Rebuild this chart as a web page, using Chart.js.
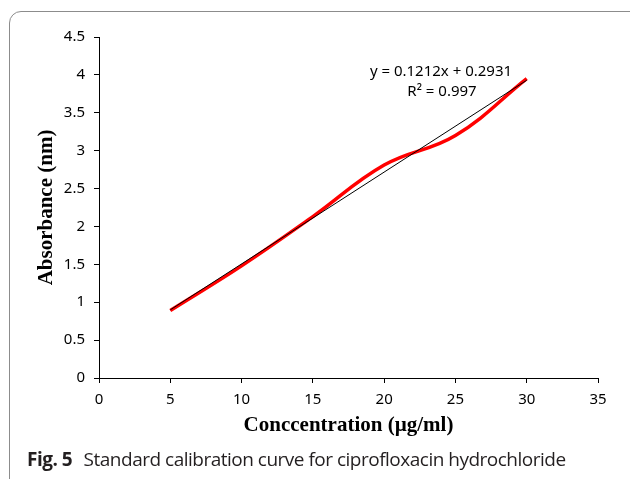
<!DOCTYPE html>
<html>
<head>
<meta charset="utf-8">
<script src="https://cdn.jsdelivr.net/npm/chart.js@4.4.1/dist/chart.umd.min.js"></script>
<style>
  html, body { margin: 0; padding: 0; background: #fff; overflow: hidden; }
  #wrap { position: relative; width: 630px; height: 479px; }
  #frame { position: absolute; left: 9px; top: 11px; width: 650px; height: 500px;
           border: 1px solid #8c8c8c; border-radius: 12px; box-sizing: border-box; }
  #chart { position: absolute; left: 0; top: 0; }
  #caption { position: absolute; left: 27px; top: 446px; font-family: "Open Sans", "Noto Sans", sans-serif;
             font-size: 19px; color: #231f20; white-space: nowrap; letter-spacing: -0.5px; }
  #caption b { margin-right: 7px; }
</style>
</head>
<body>
<div id="wrap">
  <div id="frame"></div>
  <canvas id="chart" width="630" height="479"></canvas>
  <div id="caption"><b>Fig. 5</b> Standard calibration curve for ciprofloxacin hydrochloride</div>
</div>
<script>
// 濃度と吸光度
var concentration = [5, 10, 15, 20, 25, 30];
var absorbance = [0.89, 1.48, 2.13, 2.81, 3.20, 3.95];

// 近似直線 (y = 0.1212x + 0.2931)
var trendX = [5, 30];
var trendY = [0.8991, 3.9291];

var equationText = "y = 0.1212x + 0.2931";
var r2Text = "R\u00b2 = 0.997";

var xTitle = "Conccentration (\u00b5g/ml)";
var yTitle = "Absorbance (nm)";

var measured = concentration.map(function(x, i) { return { x: x, y: absorbance[i] }; });
var trend = trendX.map(function(x, i) { return { x: x, y: trendY[i] }; });

// 式と決定係数
var labelsPlugin = {
  id: 'labelsPlugin',
  afterDraw: function(chart) {
    var ctx = chart.ctx;
    ctx.save();
    ctx.fillStyle = '#000';
    ctx.textAlign = 'center';
    ctx.textBaseline = 'middle';
    ctx.font = '15px "Noto Sans", sans-serif';
    ctx.fillText(equationText, 441, 72);
    ctx.fillText(r2Text, 442, 92);
    ctx.restore();
  }
};

var tickFont = { family: '"Noto Sans", sans-serif', size: 15 };
var titleFont = { family: '"Liberation Serif", serif', size: 21, weight: 'bold' };

var ctx = document.getElementById("chart").getContext("2d");

var myChart = new Chart(ctx, {
  type: 'scatter',
  data: {
    datasets: [{
      label: 'trend',
      data: trend,
      showLine: true,
      borderColor: '#000',
      borderWidth: 1,
      pointRadius: 0,
      order: 0
    }, {
      label: 'absorbance',
      data: measured,
      showLine: true,
      borderColor: '#ff0000',
      borderWidth: 3.5,
      tension: 0.4,
      pointRadius: 0,
      order: 1
    }]
  },
  options: {
    responsive: false,
    animation: false,
    layout: {
      padding: { left: 0, right: 32, top: 37, bottom: 37 }
    },
    plugins: {
      legend: { display: false },
      tooltip: { enabled: false }
    },
    scales: {
      x: {
        type: 'linear',
        min: 0,
        max: 35,
        ticks: { stepSize: 5, color: '#000', padding: 8, font: tickFont },
        grid: { drawOnChartArea: false, drawTicks: true, tickLength: 5, color: '#000' },
        border: { color: '#000', width: 1 },
        title: {
          display: true,
          text: xTitle,
          color: '#000',
          font: titleFont,
          padding: { top: 0, bottom: 4 }
        },
        afterFit: function(scale) { scale.height = 64; }
      },
      y: {
        min: 0,
        max: 4.5,
        ticks: { stepSize: 0.5, color: '#000', padding: 9, font: tickFont,
                 callback: function(value) { return String(Number(value.toFixed(1))); } },
        grid: { drawOnChartArea: false, drawTicks: true, tickLength: 5, color: '#000' },
        border: { color: '#000', width: 1 },
        title: {
          display: true,
          text: yTitle,
          color: '#000',
          font: titleFont,
          padding: { top: 34, bottom: 0 }
        },
        afterFit: function(scale) { scale.width = 99; }
      }
    }
  },
  plugins: [labelsPlugin]
});
</script>
</body>
</html>
